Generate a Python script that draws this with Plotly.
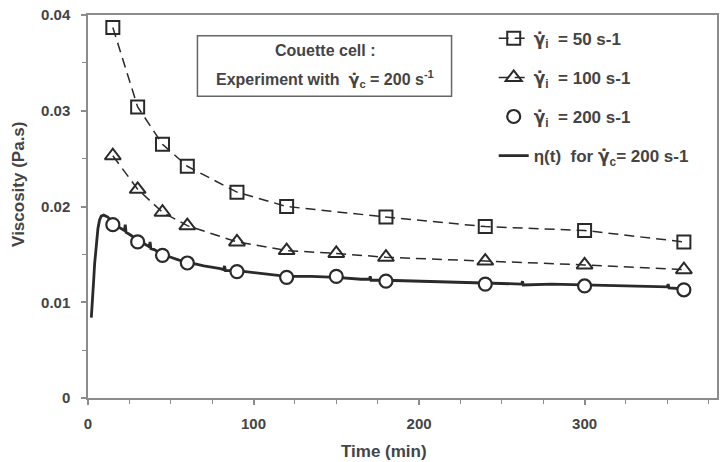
import plotly.graph_objects as go

# ---- data ----
t_markers_50 = [15, 30, 45, 60, 90, 120, 180, 240, 300, 360]
visc_50 = [0.0387, 0.0304, 0.0265, 0.0242, 0.0215, 0.0200, 0.0189, 0.0179, 0.0175, 0.0163]

t_markers_100 = [15, 30, 45, 60, 90, 120, 150, 180, 240, 300, 360]
visc_100 = [0.0253, 0.0218, 0.0194, 0.0180, 0.0163, 0.0154, 0.0151, 0.0147, 0.0143, 0.0139, 0.0134]

t_markers_200 = [15, 30, 45, 60, 90, 120, 150, 180, 240, 300, 360]
visc_200 = [0.0181, 0.0163, 0.0149, 0.0141, 0.0132, 0.0126, 0.0127, 0.0122, 0.0119, 0.0117, 0.0113]

t_eta = [2, 2.5, 3, 3.5, 4, 5, 6, 7, 8, 9.5, 12, 15, 20, 22, 22.5, 23, 25, 30, 35, 37, 37.5, 38,
         40, 45, 50, 55, 60, 70, 80, 82, 82.5, 83, 90, 100, 110, 120, 135, 150, 165, 170, 170.5,
         171, 180, 200, 220, 240, 260, 262, 262.5, 263, 280, 300, 320, 340, 350, 350.5, 351, 360]
eta = [0.0084, 0.0095, 0.0110, 0.0125, 0.0140, 0.0160, 0.0177, 0.0186, 0.0190, 0.0191, 0.0189,
       0.0182, 0.0177, 0.0175, 0.0181, 0.0173, 0.0171, 0.0165, 0.0160, 0.0158, 0.0163, 0.0156,
       0.0155, 0.0150, 0.0147, 0.0144, 0.0142, 0.0138, 0.0135, 0.0134, 0.0138, 0.0133, 0.0133,
       0.0131, 0.0129, 0.0127, 0.0127, 0.0126, 0.0124, 0.0124, 0.0127, 0.0123, 0.0123, 0.0122,
       0.0121, 0.0120, 0.0119, 0.0119, 0.0122, 0.0118, 0.0119, 0.0118, 0.0117, 0.0116, 0.0116,
       0.0119, 0.0115, 0.0114]

x_ticks = [0, 100, 200, 300]
y_ticks = [0, 0.01, 0.02, 0.03, 0.04]
y_tick_labels = ["0", "0.01", "0.02", "0.03", "0.04"]

INK = "#2a2a2a"
TXT = "#444444"
AX = "#8c8c8c"
FONT = "Liberation Sans"
GD = "<span style=\"font-family:'DejaVu Sans'\">\u03b3\u0307</span>"

fig = go.Figure()

fig.add_trace(go.Scatter(
    x=t_markers_50, y=visc_50, mode="lines+markers",
    name=f"{GD}<sub>i</sub>  = 50 s-1", legendgroup="a",
    line=dict(color=INK, width=1.5, dash="10px,6px"),
    marker=dict(symbol="square-open", size=13, color=INK, line=dict(width=2, color=INK)),
))
fig.add_trace(go.Scatter(
    x=t_markers_100, y=visc_100, mode="lines+markers",
    name=f"{GD}<sub>i</sub>  = 100 s-1", legendgroup="b",
    line=dict(color=INK, width=1.5, dash="10px,6px"),
    marker=dict(symbol="triangle-up-open", size=14, color=INK, line=dict(width=2, color=INK)),
))
fig.add_trace(go.Scatter(
    x=t_eta, y=eta, mode="lines",
    name="eta", legendgroup="d",
    line=dict(color=INK, width=2.8),
    showlegend=False,
))
fig.add_trace(go.Scatter(
    x=t_markers_200, y=visc_200, mode="markers",
    name=f"{GD}<sub>i</sub>  = 200 s-1", legendgroup="c",
    marker=dict(symbol="circle", size=13, color="white", line=dict(width=2.2, color=INK)),
))
fig.add_trace(go.Scatter(
    x=[None], y=[None], mode="lines",
    name=f"\u03b7(t)  for {GD}<sub>c</sub>= 200 s-1", legendgroup="d",
    line=dict(color=INK, width=2.8),
))

# annotation box
fig.add_shape(type="rect", xref="paper", yref="paper", x0=0.174, x1=0.578, y0=0.788, y1=0.946,
              line=dict(color="#666666", width=1.5), fillcolor="white", layer="above")
fig.add_annotation(xref="paper", yref="paper", x=0.376, y=0.907, xanchor="center", yanchor="middle",
                   text="Couette cell :", showarrow=False,
                   font=dict(family=FONT, size=16, color=TXT, weight="bold"))
fig.add_annotation(xref="paper", yref="paper", x=0.376, y=0.832, xanchor="center", yanchor="middle",
                   text=f"Experiment with  {GD}<sub>c</sub> = 200 s<sup>-1</sup>", showarrow=False,
                   font=dict(family=FONT, size=16, color=TXT, weight="bold"))

# axis titles
fig.add_annotation(xref="paper", yref="paper", x=(385 - 88) / 631, y=-(452 - 398) / 386,
                   xanchor="center", yanchor="middle", text="Time (min)", showarrow=False,
                   font=dict(family=FONT, size=17, color=TXT, weight="bold"))
fig.add_annotation(xref="paper", yref="paper", x=-(88 - 18) / 631, y=1 - (183 - 12) / 386,
                   xanchor="center", yanchor="middle", text="Viscosity (Pa.s)", textangle=-90,
                   showarrow=False, font=dict(family=FONT, size=17, color=TXT, weight="bold"))

fig.update_layout(
    width=725, height=462,
    margin=dict(l=88, r=6, t=12, b=64),
    paper_bgcolor="white", plot_bgcolor="white",
    font=dict(family=FONT, size=13, color=TXT, weight="bold"),
    legend=dict(
        x=0.645, y=0.985, xanchor="left", yanchor="top",
        font=dict(family=FONT, size=17, color=TXT, weight="bold"),
        tracegroupgap=14, bgcolor="rgba(0,0,0,0)", itemwidth=30,
    ),
    xaxis=dict(
        range=[0, 380], tickvals=x_ticks, showgrid=False, zeroline=False,
        showline=True, linecolor=AX, linewidth=1.5, mirror=True,
        ticks="outside", ticklen=5, tickcolor=AX, tickwidth=1.5, ticklabelstandoff=6,
        minor=dict(dtick=25, ticks="outside", ticklen=4, tickcolor=AX, tickwidth=1.2),
        tickfont=dict(family=FONT, size=15, color=TXT, weight="bold"),
    ),
    yaxis=dict(
        range=[0, 0.04], tickvals=y_ticks, ticktext=y_tick_labels, showgrid=False, zeroline=False,
        showline=True, linecolor=AX, linewidth=1.5, mirror=True,
        ticks="outside", ticklen=5, tickcolor=AX, tickwidth=1.5, ticklabelstandoff=8,
        minor=dict(dtick=0.005, ticks="outside", ticklen=4, tickcolor=AX, tickwidth=1.2),
        tickfont=dict(family=FONT, size=15, color=TXT, weight="bold"),
    ),
)

fig.write_html("out.html")
